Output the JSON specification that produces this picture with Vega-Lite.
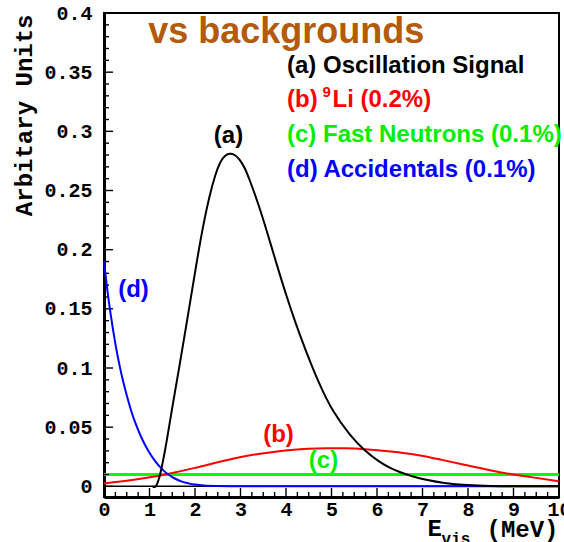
{
  "$schema": "https://vega.github.io/schema/vega-lite/v6.json",
  "autosize": "none",
  "width": 455,
  "height": 484,
  "padding": {"left": 104, "top": 13, "right": 5, "bottom": 45},
  "background": "white",
  "config": {
    "view": {"stroke": "black", "strokeWidth": 2}
  },
  "resolve": {"axis": {"x": "independent", "y": "independent"}},
  "datasets": {
    "signal": [
      {"E": 1.07, "v": 0}, {"E": 1.13, "v": -0.0015}, {"E": 1.2, "v": 0.005}, {"E": 1.26, "v": 0.014},
      {"E": 1.37, "v": 0.036}, {"E": 1.51, "v": 0.069}, {"E": 1.66, "v": 0.102}, {"E": 1.8, "v": 0.134},
      {"E": 1.95, "v": 0.169}, {"E": 2.04, "v": 0.19}, {"E": 2.17, "v": 0.219}, {"E": 2.32, "v": 0.246},
      {"E": 2.45, "v": 0.264}, {"E": 2.55, "v": 0.274}, {"E": 2.65, "v": 0.2795}, {"E": 2.76, "v": 0.2815},
      {"E": 2.87, "v": 0.2805}, {"E": 2.98, "v": 0.2765}, {"E": 3.1, "v": 0.269}, {"E": 3.2, "v": 0.259},
      {"E": 3.4, "v": 0.238}, {"E": 3.6, "v": 0.213}, {"E": 3.8, "v": 0.187}, {"E": 4.0, "v": 0.162},
      {"E": 4.2, "v": 0.139}, {"E": 4.42, "v": 0.116}, {"E": 4.71, "v": 0.088}, {"E": 5.04, "v": 0.062},
      {"E": 5.41, "v": 0.043}, {"E": 5.7, "v": 0.031}, {"E": 6.07, "v": 0.02}, {"E": 6.29, "v": 0.0155},
      {"E": 6.51, "v": 0.0118}, {"E": 6.75, "v": 0.0088}, {"E": 7.03, "v": 0.0058}, {"E": 7.47, "v": 0.0027},
      {"E": 7.98, "v": 0.0009}, {"E": 8.5, "v": 0.0002}, {"E": 9.0, "v": 0}, {"E": 10, "v": 0}
    ],
    "li9": [
      {"E": 0, "v": 0.0025}, {"E": 0.5, "v": 0.0045}, {"E": 1.0, "v": 0.0075}, {"E": 1.35, "v": 0.01},
      {"E": 2.0, "v": 0.0155}, {"E": 2.5, "v": 0.0205}, {"E": 3.0, "v": 0.025}, {"E": 3.4, "v": 0.0275},
      {"E": 4.0, "v": 0.0306}, {"E": 4.5, "v": 0.032}, {"E": 4.9, "v": 0.0323}, {"E": 5.3, "v": 0.0322},
      {"E": 5.7, "v": 0.0316}, {"E": 6.3, "v": 0.0296}, {"E": 6.9, "v": 0.0268}, {"E": 7.4, "v": 0.0226},
      {"E": 7.9, "v": 0.0184}, {"E": 8.5, "v": 0.0133}, {"E": 9.0, "v": 0.0099}, {"E": 9.5, "v": 0.0072},
      {"E": 10.0, "v": 0.0043}
    ],
    "fastn": [
      {"E": 0, "v": 0.01}, {"E": 10, "v": 0.01}
    ],
    "baseline": [
      {"E": 0, "v": 0}, {"E": 10, "v": 0}
    ],
    "accidentals": [
      {"E": 0, "v": 0.19}, {"E": 0.1, "v": 0.158}, {"E": 0.2, "v": 0.132}, {"E": 0.3, "v": 0.11},
      {"E": 0.4, "v": 0.092}, {"E": 0.5, "v": 0.077}, {"E": 0.6, "v": 0.0635}, {"E": 0.7, "v": 0.0525},
      {"E": 0.8, "v": 0.0432}, {"E": 0.9, "v": 0.0352}, {"E": 1.0, "v": 0.0284}, {"E": 1.1, "v": 0.0226},
      {"E": 1.2, "v": 0.0177}, {"E": 1.3, "v": 0.0137}, {"E": 1.4, "v": 0.0104}, {"E": 1.5, "v": 0.0078},
      {"E": 1.6, "v": 0.0058}, {"E": 1.7, "v": 0.0042}, {"E": 1.8, "v": 0.003}, {"E": 1.9, "v": 0.0021},
      {"E": 2.0, "v": 0.0015}, {"E": 2.2, "v": 0.0007}, {"E": 2.5, "v": 0.0003}, {"E": 3.0, "v": 0.0001},
      {"E": 3.5, "v": 0}, {"E": 10, "v": 0}
    ],
    "xMajorTicks": [
      {"E": 0}, {"E": 1}, {"E": 2}, {"E": 3}, {"E": 4}, {"E": 5}, {"E": 6}, {"E": 7}, {"E": 8}, {"E": 9}, {"E": 10}
    ],
    "xMinorTicks": [
      {"E": 0.25}, {"E": 0.5}, {"E": 0.75}, {"E": 1.25}, {"E": 1.5}, {"E": 1.75}, {"E": 2.25}, {"E": 2.5}, {"E": 2.75},
      {"E": 3.25}, {"E": 3.5}, {"E": 3.75}, {"E": 4.25}, {"E": 4.5}, {"E": 4.75}, {"E": 5.25}, {"E": 5.5}, {"E": 5.75},
      {"E": 6.25}, {"E": 6.5}, {"E": 6.75}, {"E": 7.25}, {"E": 7.5}, {"E": 7.75}, {"E": 8.25}, {"E": 8.5}, {"E": 8.75},
      {"E": 9.25}, {"E": 9.5}, {"E": 9.75}
    ],
    "yMajorTicks": [
      {"v": 0}, {"v": 0.05}, {"v": 0.1}, {"v": 0.15}, {"v": 0.2}, {"v": 0.25}, {"v": 0.3}, {"v": 0.35}, {"v": 0.4}
    ],
    "yMinorTicks": [
      {"v": 0.01}, {"v": 0.02}, {"v": 0.03}, {"v": 0.04}, {"v": 0.06}, {"v": 0.07}, {"v": 0.08}, {"v": 0.09},
      {"v": 0.11}, {"v": 0.12}, {"v": 0.13}, {"v": 0.14}, {"v": 0.16}, {"v": 0.17}, {"v": 0.18}, {"v": 0.19},
      {"v": 0.21}, {"v": 0.22}, {"v": 0.23}, {"v": 0.24}, {"v": 0.26}, {"v": 0.27}, {"v": 0.28}, {"v": 0.29},
      {"v": 0.31}, {"v": 0.32}, {"v": 0.33}, {"v": 0.34}, {"v": 0.36}, {"v": 0.37}, {"v": 0.38}, {"v": 0.39}
    ]
  },
  "layer": [
    {
      "data": {"name": "fastn"},
      "mark": {"type": "line", "color": "#00ff00", "strokeWidth": 3},
      "encoding": {
        "x": {
          "field": "E", "type": "quantitative",
          "scale": {"domain": [0, 10], "nice": false, "zero": false},
          "axis": {
            "orient": "bottom",
            "values": [0, 1, 2, 3, 4, 5, 6, 7, 8, 9, 10],
            "format": "d",
            "title": "(MeV)",
            "titleFont": "Liberation Mono", "titleFontWeight": "bold", "titleFontSize": 24, "titleColor": "black",
            "titleAlign": "right", "titleBaseline": "alphabetic", "titleX": 454, "titleY": 39,
            "labelFont": "Liberation Mono", "labelFontWeight": "bold", "labelFontSize": 20, "labelColor": "black",
            "labelPadding": 2, "labelFlush": false, "labelOverlap": false, "labelBound": false,
            "ticks": false, "grid": false,
            "domainColor": "black", "domainWidth": 3
          }
        },
        "y": {
          "field": "v", "type": "quantitative",
          "scale": {"domain": [-0.009, 0.4], "nice": false, "zero": false},
          "axis": {
            "orient": "left",
            "values": [0, 0.05, 0.1, 0.15, 0.2, 0.25, 0.3, 0.35, 0.4],
            "format": ".2~f",
            "title": "Arbitary Units",
            "titleFont": "Liberation Mono", "titleFontWeight": "bold", "titleFontSize": 24, "titleColor": "black",
            "titleAngle": -90, "titleAlign": "right", "titleBaseline": "alphabetic", "titleX": -73, "titleY": 1,
            "labelFont": "Liberation Mono", "labelFontWeight": "bold", "labelFontSize": 20, "labelColor": "black",
            "labelPadding": 12, "labelAlign": "right", "labelBaseline": "middle",
            "labelFlush": false, "labelOverlap": false, "labelBound": false,
            "ticks": false, "grid": false,
            "domainColor": "black", "domainWidth": 3
          }
        }
      }
    },
    {
      "data": {"name": "xMajorTicks"},
      "mark": {"type": "rule", "color": "black", "strokeWidth": 1.4},
      "encoding": {
        "x": {"field": "E", "type": "quantitative", "axis": null},
        "y": {"datum": -0.009, "axis": null},
        "y2": {"datum": -0.0014}
      }
    },
    {
      "data": {"name": "xMinorTicks"},
      "mark": {"type": "rule", "color": "black", "strokeWidth": 1.4},
      "encoding": {
        "x": {"field": "E", "type": "quantitative", "axis": null},
        "y": {"datum": -0.009, "axis": null},
        "y2": {"datum": -0.0048}
      }
    },
    {
      "data": {"name": "yMajorTicks"},
      "mark": {"type": "rule", "color": "black", "strokeWidth": 1.4},
      "encoding": {
        "y": {"field": "v", "type": "quantitative", "axis": null},
        "x": {"datum": 0, "axis": null},
        "x2": {"datum": 0.2}
      }
    },
    {
      "data": {"name": "yMinorTicks"},
      "mark": {"type": "rule", "color": "black", "strokeWidth": 1.4},
      "encoding": {
        "y": {"field": "v", "type": "quantitative", "axis": null},
        "x": {"datum": 0, "axis": null},
        "x2": {"datum": 0.11}
      }
    },
    {
      "data": {"name": "li9"},
      "mark": {"type": "line", "color": "#ff0000", "strokeWidth": 2, "interpolate": "basis"},
      "encoding": {
        "x": {"field": "E", "type": "quantitative", "axis": null},
        "y": {"field": "v", "type": "quantitative", "axis": null}
      }
    },
    {
      "data": {"name": "baseline"},
      "mark": {"type": "line", "color": "black", "strokeWidth": 1.5},
      "encoding": {
        "x": {"field": "E", "type": "quantitative", "axis": null},
        "y": {"field": "v", "type": "quantitative", "axis": null}
      }
    },
    {
      "data": {"name": "accidentals"},
      "mark": {"type": "line", "color": "#0000ff", "strokeWidth": 2, "interpolate": "monotone"},
      "encoding": {
        "x": {"field": "E", "type": "quantitative", "axis": null},
        "y": {"field": "v", "type": "quantitative", "axis": null}
      }
    },
    {
      "data": {"name": "signal"},
      "mark": {"type": "line", "color": "black", "strokeWidth": 2, "interpolate": "basis"},
      "encoding": {
        "x": {"field": "E", "type": "quantitative", "axis": null},
        "y": {"field": "v", "type": "quantitative", "axis": null}
      }
    },
    {
      "data": {"values": [{}]},
      "layer": [
        {"mark": {"type": "text", "text": "vs backgrounds", "font": "Liberation Sans", "fontWeight": "bold", "fontSize": 36, "align": "left", "baseline": "alphabetic", "color": "#b55a0a"},
         "encoding": {"x": {"datum": 0.97, "axis": null}, "y": {"datum": 0.3746, "axis": null}}},
        {"mark": {"type": "text", "text": "(a) Oscillation Signal", "font": "Liberation Sans", "fontWeight": "bold", "fontSize": 24, "align": "left", "baseline": "alphabetic", "color": "black"},
         "encoding": {"x": {"datum": 4.022, "axis": null}, "y": {"datum": 0.3493, "axis": null}}},
        {"mark": {"type": "text", "text": "(b)", "font": "Liberation Sans", "fontWeight": "bold", "fontSize": 24, "align": "left", "baseline": "alphabetic", "color": "#ff0000"},
         "encoding": {"x": {"datum": 4.022, "axis": null}, "y": {"datum": 0.3205, "axis": null}}},
        {"mark": {"type": "text", "text": "9", "font": "Liberation Sans", "fontWeight": "bold", "fontSize": 15, "align": "left", "baseline": "alphabetic", "color": "#ff0000"},
         "encoding": {"x": {"datum": 4.8, "axis": null}, "y": {"datum": 0.3294, "axis": null}}},
        {"mark": {"type": "text", "text": "Li (0.2%)", "font": "Liberation Sans", "fontWeight": "bold", "fontSize": 24, "align": "left", "baseline": "alphabetic", "color": "#ff0000"},
         "encoding": {"x": {"datum": 5.022, "axis": null}, "y": {"datum": 0.3205, "axis": null}}},
        {"mark": {"type": "text", "text": "(c) Fast Neutrons (0.1%)", "font": "Liberation Sans", "fontWeight": "bold", "fontSize": 24, "align": "left", "baseline": "alphabetic", "color": "#00ee00"},
         "encoding": {"x": {"datum": 4.022, "axis": null}, "y": {"datum": 0.2914, "axis": null}}},
        {"mark": {"type": "text", "text": "(d) Accidentals (0.1%)", "font": "Liberation Sans", "fontWeight": "bold", "fontSize": 24, "align": "left", "baseline": "alphabetic", "color": "#0000ff"},
         "encoding": {"x": {"datum": 4.022, "axis": null}, "y": {"datum": 0.2618, "axis": null}}},
        {"mark": {"type": "text", "text": "(a)", "font": "Liberation Sans", "fontWeight": "bold", "fontSize": 24, "align": "center", "baseline": "alphabetic", "color": "black"},
         "encoding": {"x": {"datum": 2.736, "axis": null}, "y": {"datum": 0.2905, "axis": null}}},
        {"mark": {"type": "text", "text": "(b)", "font": "Liberation Sans", "fontWeight": "bold", "fontSize": 24, "align": "center", "baseline": "alphabetic", "color": "#ff0000"},
         "encoding": {"x": {"datum": 3.835, "axis": null}, "y": {"datum": 0.0378, "axis": null}}},
        {"mark": {"type": "text", "text": "(c)", "font": "Liberation Sans", "fontWeight": "bold", "fontSize": 24, "align": "center", "baseline": "alphabetic", "color": "#00ee00"},
         "encoding": {"x": {"datum": 4.824, "axis": null}, "y": {"datum": 0.0158, "axis": null}}},
        {"mark": {"type": "text", "text": "(d)", "font": "Liberation Sans", "fontWeight": "bold", "fontSize": 24, "align": "center", "baseline": "alphabetic", "color": "#0000ff"},
         "encoding": {"x": {"datum": 0.648, "axis": null}, "y": {"datum": 0.1603, "axis": null}}},
        {"mark": {"type": "text", "text": "E", "font": "Liberation Mono", "fontWeight": "bold", "fontSize": 24, "align": "left", "baseline": "alphabetic", "color": "black"},
         "encoding": {"x": {"datum": 7.11, "axis": null}, "y": {"datum": -0.0417, "axis": null}}},
        {"mark": {"type": "text", "text": "vis", "font": "Liberation Mono", "fontWeight": "bold", "fontSize": 16, "align": "left", "baseline": "alphabetic", "color": "black"},
         "encoding": {"x": {"datum": 7.42, "axis": null}, "y": {"datum": -0.0484, "axis": null}}}
      ]
    }
  ]
}
